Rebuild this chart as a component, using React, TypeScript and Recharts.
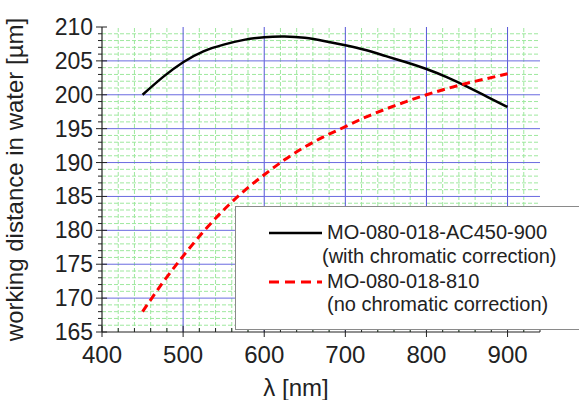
import React from "react";
import { LineChart, Line, XAxis, YAxis, ReferenceLine, Legend } from "recharts";

const wavelengths = [450, 475, 500, 525, 550, 575, 600, 625, 650, 675, 700, 725, 750, 775, 800, 825, 850, 875, 900];
const withCorrection = [200.0, 202.6, 204.8, 206.4, 207.4, 208.1, 208.5, 208.6, 208.4, 207.9, 207.3, 206.6, 205.7, 204.8, 203.8, 202.6, 201.2, 199.7, 198.2];
const noCorrection = [168.0, 172.3, 176.2, 179.8, 183.0, 185.8, 188.2, 190.4, 192.3, 193.9, 195.3, 196.7, 197.9, 199.0, 200.0, 200.9, 201.7, 202.4, 203.1];

const seriesNames = ["MO-080-018-AC450-900", "MO-080-018-810"];
const seriesNotes = ["(with chromatic correction)", "(no chromatic correction)"];

const xTicks = [400, 420, 440, 460, 480, 500, 520, 540, 560, 580, 600, 620, 640, 660, 680, 700, 720, 740, 760, 780, 800, 820, 840, 860, 880, 900, 920, 940];
const xLabelled = [400, 500, 600, 700, 800, 900];
const yTicks = [165, 166, 167, 168, 169, 170, 171, 172, 173, 174, 175, 176, 177, 178, 179, 180, 181, 182, 183, 184, 185, 186, 187, 188, 189, 190, 191, 192, 193, 194, 195, 196, 197, 198, 199, 200, 201, 202, 203, 204, 205, 206, 207, 208, 209, 210];
const yLabelled = [165, 170, 175, 180, 185, 190, 195, 200, 205, 210];

const xMajorGrid = [500, 600, 700, 800, 900];
const xMinorGrid = xTicks.filter((v) => v > 400 && v < 940 && !xLabelled.includes(v));
const yMajorGrid = [170, 175, 180, 185, 190, 195, 200, 205];
const yMinorGrid = yTicks.filter((v) => v > 165 && v < 210 && !yLabelled.includes(v));

const data = wavelengths.map((w, i) => ({ w, a: withCorrection[i], b: noCorrection[i] }));

const FONT = "'Liberation Sans', Arial, sans-serif";
const AXIS = "#222";

const XTick = (props: any) => {
  const { x, y, payload } = props;
  const v = payload.value;
  const major = xLabelled.includes(v);
  return (
    <g>
      <line x1={x} x2={x} y1={y - (major ? 6 : 4)} y2={y + (major ? 5 : 0)} stroke={AXIS} strokeWidth={1} />
      {major && (
        <text x={x} y={y + 22} textAnchor="middle" dominantBaseline="central" fontSize={24} fill="#222" fontFamily={FONT}>
          {v}
        </text>
      )}
    </g>
  );
};

const YTick = (props: any) => {
  const { x, y, payload } = props;
  const v = payload.value;
  const major = yLabelled.includes(v);
  return (
    <g>
      <line x1={x - (major ? 6 : 4)} x2={x + (major ? 5 : 0)} y1={y} y2={y} stroke={AXIS} strokeWidth={1} />
      {major && (
        <text x={x - 9} y={y} textAnchor="end" dominantBaseline="central" fontSize={23} fill="#222" fontFamily={FONT}>
          {v}
        </text>
      )}
    </g>
  );
};

const LegendBox = () => (
  <div
    style={{
      width: "100%",
      height: "100%",
      boxSizing: "border-box",
      border: "1px solid #8a8a8a",
      background: "#fff",
      fontFamily: FONT,
      fontSize: 20,
      color: "#222",
      position: "relative",
    }}
  >
    <svg width={60} height={80} style={{ position: "absolute", left: 32, top: 14 }}>
      <line x1={1} x2={54} y1={12} y2={12} stroke="#000" strokeWidth={2.5} />
      <line x1={1} x2={54} y1={61} y2={61} stroke="#ff0000" strokeWidth={3} strokeDasharray="10 6" />
    </svg>
    <div style={{ position: "absolute", left: 91, top: 13, lineHeight: "24px", whiteSpace: "nowrap" }}>{seriesNames[0]}</div>
    <div style={{ position: "absolute", left: 86, top: 37, lineHeight: "24px", whiteSpace: "nowrap" }}>{seriesNotes[0]}</div>
    <div style={{ position: "absolute", left: 91, top: 62, lineHeight: "24px", whiteSpace: "nowrap" }}>{seriesNames[1]}</div>
    <div style={{ position: "absolute", left: 91, top: 85, lineHeight: "24px", whiteSpace: "nowrap" }}>{seriesNotes[1]}</div>
  </div>
);

export default function App() {
  return (
    <div style={{ position: "absolute", left: 0, top: 0, width: 579, height: 400, background: "#fff", overflow: "hidden" }}>
      <LineChart width={579} height={400} data={data} margin={{ top: 27, right: 39, bottom: 0, left: 0 }}>
        {xMinorGrid.map((v) => (
          <ReferenceLine key={"xm" + v} x={v} stroke="#9fe89f" strokeWidth={1} strokeDasharray="4 2" />
        ))}
        {yMinorGrid.map((v) => (
          <ReferenceLine key={"ym" + v} y={v} stroke="#9fe89f" strokeWidth={1} strokeDasharray="4 2" />
        ))}
        {xMajorGrid.map((v) => (
          <ReferenceLine key={"xM" + v} x={v} stroke="#5555d8" strokeWidth={1} />
        ))}
        {yMajorGrid.map((v) => (
          <ReferenceLine key={"yM" + v} y={v} stroke="#6a6ae0" strokeWidth={1} />
        ))}
        <XAxis
          dataKey="w"
          type="number"
          domain={[400, 940]}
          ticks={xTicks}
          interval={0}
          tickSize={0}
          tickMargin={0}
          tick={<XTick />}
          axisLine={{ stroke: AXIS, strokeWidth: 1.2 }}
          tickLine={false}
          height={68}
          allowDataOverflow
          label={{ value: "λ [nm]", position: "insideBottom", offset: 4, fontSize: 24, fill: "#222", fontFamily: FONT, dx: -25 }}
        />
        <YAxis
          type="number"
          domain={[165, 210]}
          ticks={yTicks}
          interval={0}
          tickSize={0}
          tickMargin={0}
          tick={<YTick />}
          axisLine={{ stroke: AXIS, strokeWidth: 1.2 }}
          tickLine={false}
          width={102}
          allowDataOverflow
          label={{
            value: "working distance in water [µm]",
            angle: -90,
            position: "insideLeft",
            offset: 14,
            fontSize: 24,
            fill: "#222",
            fontFamily: FONT,
            style: { textAnchor: "middle" },
          }}
        />
        <Line dataKey="a" name={seriesNames[0]} type="natural" stroke="#000" strokeWidth={2.5} dot={false} isAnimationActive={false} />
        <Line dataKey="b" name={seriesNames[1]} type="natural" stroke="#ff0000" strokeWidth={3} strokeDasharray="8 5" dot={false} isAnimationActive={false} />
        <Legend
          layout="horizontal"
          verticalAlign="middle"
          align="center"
          content={<LegendBox />}
          wrapperStyle={{ left: 235, top: 206, width: 360, height: 124 }}
        />
      </LineChart>
    </div>
  );
}
